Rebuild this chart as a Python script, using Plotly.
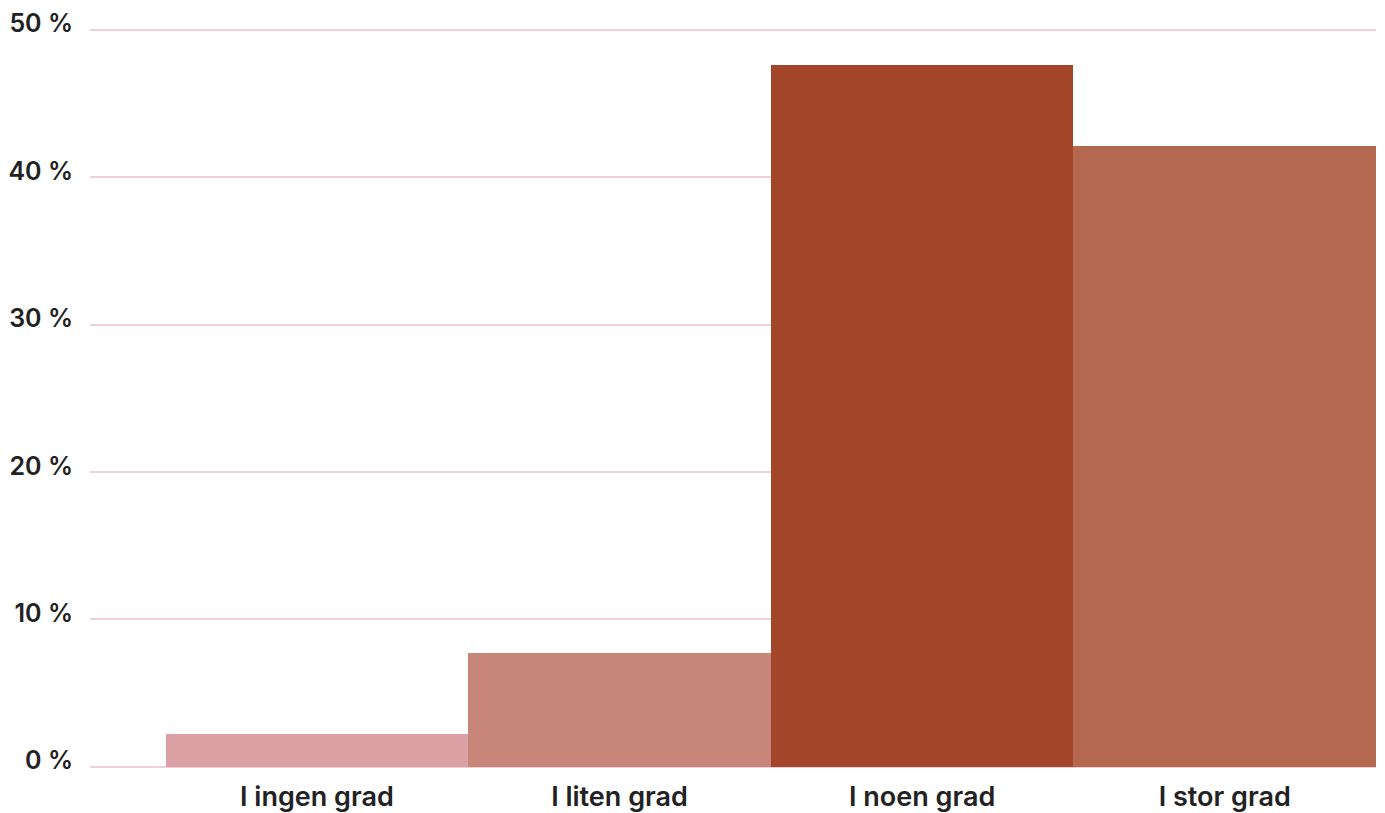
import plotly.graph_objects as go

categories = ["I ingen grad", "I liten grad", "I noen grad", "I stor grad"]
values = [2.2, 7.7, 47.6, 42.1]
bar_colors = ["#dba1a4", "#c8857a", "#a34528", "#b4684f"]
y_ticks = [0, 10, 20, 30, 40, 50]
y_tick_labels = ["0 %", "10 %", "20 %", "30 %", "40 %", "50 %"]

fig = go.Figure()

fig.add_trace(go.Bar(
    x=list(range(len(categories))),
    y=values,
    marker_color=bar_colors,
    marker_line_width=0,
    hovertemplate="%{y:.1f} %<extra></extra>",
))

# the page body adds 8px, so the figure is a bit smaller than the window
fig.update_layout(
    width=1377,
    height=805,
    margin=dict(l=82, r=9, t=7, b=39),
    paper_bgcolor="white",
    plot_bgcolor="white",
    bargap=0,
    showlegend=False,
    font=dict(family="Inter", color="#222222"),
    xaxis=dict(
        range=[-0.75, 3.5],
        tickvals=list(range(len(categories))),
        ticktext=categories,
        tickfont=dict(size=27, family="Inter", weight=600),
        ticklabelstandoff=4,
        showgrid=False,
        zeroline=False,
        showline=False,
        ticks="",
        automargin=False,
        fixedrange=True,
    ),
    yaxis=dict(
        range=[-0.5, 51],
        tickvals=y_ticks,
        ticktext=y_tick_labels,
        tickfont=dict(size=25, family="Inter", weight=600),
        ticklabelshift=-6,
        ticklabelstandoff=16,
        showgrid=True,
        gridcolor="#f3cddb",
        gridwidth=1.5,
        zeroline=False,
        showline=False,
        ticks="",
        automargin=False,
        fixedrange=True,
    ),
)

fig.write_html("out.html")
